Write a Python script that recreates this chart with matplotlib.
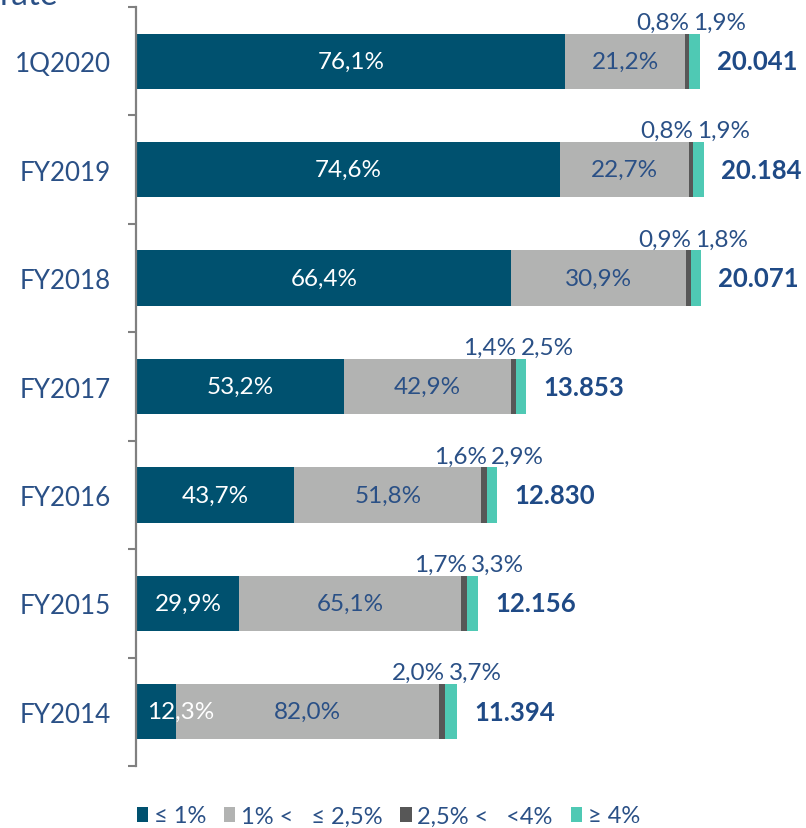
import matplotlib
matplotlib.use("Agg")
import matplotlib.pyplot as plt
from matplotlib.patches import Patch
import numpy as np

plt.rcParams['font.family'] = ['Lato', 'DejaVu Sans']

categories = ["FY2014", "FY2015", "FY2016", "FY2017", "FY2018", "FY2019", "1Q2020"]
totals = [11394, 12156, 12830, 13853, 20071, 20184, 20041]
total_labels = ["11.394", "12.156", "12.830", "13.853", "20.071", "20.184", "20.041"]
share_le1 = [12.3, 29.9, 43.7, 53.2, 66.4, 74.6, 76.1]
share_1_25 = [82.0, 65.1, 51.8, 42.9, 30.9, 22.7, 21.2]
share_25_4 = [2.0, 1.7, 1.6, 1.4, 0.9, 0.8, 0.8]
share_ge4 = [3.7, 3.3, 2.9, 2.5, 1.8, 1.9, 1.9]
series_names = ["≤ 1%", "1% <   ≤ 2,5%", "2,5% <   <4%", "≥ 4%"]

colors = ["#00516f", "#b2b3b2", "#575757", "#4fc9b4"]
txt = "#2a5086"
tot_col = "#1f4a86"

def fmt(v):
    return f"{v:.1f}".replace(".", ",") + "%"

W, H = 806, 829
fig = plt.figure(figsize=(W / 100, H / 100), dpi=100)
ax = fig.add_axes([136 / W, 62 / H, (W - 136) / W, (767 - 8) / H])

y = np.arange(len(categories))
shares = [share_le1, share_1_25, share_25_4, share_ge4]
tot = np.array(totals, dtype=float)
left = np.zeros(len(categories))
ends = []
for s, c in zip(shares, colors):
    w = tot * np.array(s) / 100.0
    ax.barh(y, w, left=left, height=0.51, color=c, edgecolor='none')
    left = left + w
    ends.append(left.copy())

xmax = (W - 136) / 0.02814
ax.set_xlim(-30, xmax)
ax.set_ylim(-0.5, len(categories) - 0.5)

px = xmax / (W - 136)  # data units per pixel

for i in range(len(categories)):
    x1 = ends[0][i]
    if x1 / px < 70:
        ax.text(10 * px, y[i], fmt(share_le1[i]), ha='left', va='center',
                color='white', fontsize=17.5)
    else:
        ax.text(x1 / 2, y[i], fmt(share_le1[i]), ha='center', va='center',
                color='white', fontsize=17.5)
    ax.text((ends[0][i] + ends[1][i]) / 2, y[i], fmt(share_1_25[i]), ha='center',
            va='center', color=txt, fontsize=17.5)
    ax.text(ends[2][i], y[i] + 0.36, fmt(share_25_4[i]), ha='right', va='center',
            color=txt, fontsize=17.5)
    ax.text(ends[2][i] + 4 * px, y[i] + 0.36, fmt(share_ge4[i]), ha='left', va='center',
            color=txt, fontsize=17.5)
    ax.text(ends[3][i] + 17 * px, y[i], total_labels[i], ha='left', va='center',
            color=tot_col, fontsize=18.5, fontweight='bold')

ax.set_yticks(y)
ax.set_yticklabels(categories, fontsize=18.7, color=txt)
ax.tick_params(axis='y', which='major', length=0, pad=18)
ax.set_yticks(np.arange(-0.5, len(categories), 1.0), minor=True)
ax.tick_params(axis='y', which='minor', length=6, width=1.5, color='#808080', direction='out')
ax.set_xticks([])
for sp in ['top', 'right', 'bottom']:
    ax.spines[sp].set_visible(False)
ax.spines['left'].set_color('#808080')
ax.spines['left'].set_linewidth(1.6)

# cut-off title fragment at top left
fig.text(0.0, 1 - 5 / H, "rate", ha='left', va='baseline', color=txt, fontsize=24)

handles = [Patch(facecolor=c, edgecolor='none') for c in colors]
fig.legend(handles, series_names, loc='center left', bbox_to_anchor=(137 / W, 1 - 817 / H),
           ncol=4, frameon=False, fontsize=17, labelcolor=txt, handlelength=0.47,
           handleheight=0.6, handletextpad=0.25, columnspacing=0.75, borderpad=0,
           borderaxespad=0)

fig.savefig("out.png", dpi=100)
